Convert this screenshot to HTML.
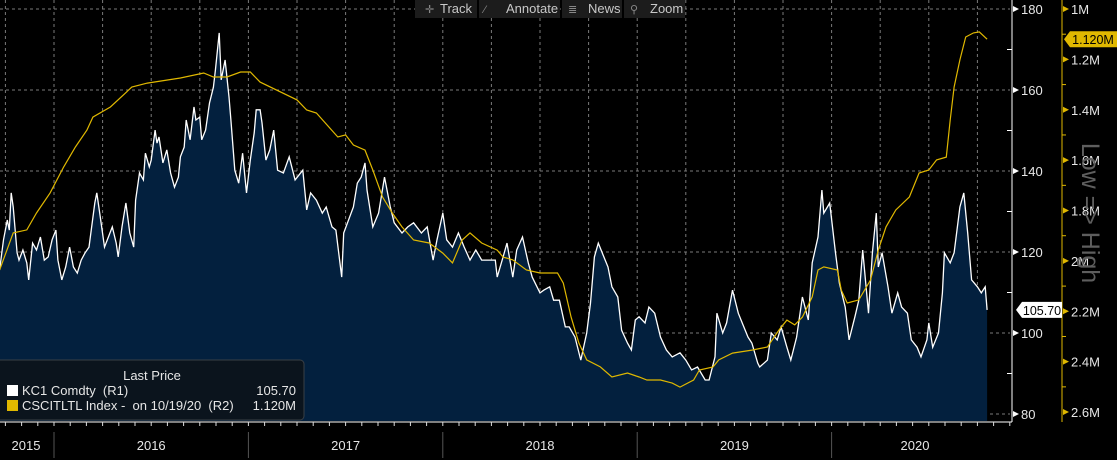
<!DOCTYPE html>
<html><head><meta charset="utf-8">
<style>
html,body{margin:0;padding:0;background:#000;width:1117px;height:460px;overflow:hidden;font-family:"Liberation Sans",sans-serif;}
svg text{font-family:"Liberation Sans",sans-serif;white-space:pre;}
</style></head>
<body>
<svg id="chart" width="1117" height="460" viewBox="0 0 1117 460" xmlns="http://www.w3.org/2000/svg">
<g id="grid"></g>
<g id="series"></g>
<g id="axes"></g>
<g>
  <rect x="415" y="0" width="62" height="18" fill="#1c1c1c"/>
  <text x="425" y="13" fill="#888" font-size="11">✛</text>
  <text x="440" y="13" fill="#c8c8c8" font-size="13">Track</text>
  <rect x="479" y="0" width="81" height="18" fill="#1c1c1c"/>
  <text x="484" y="13" fill="#888" font-size="11">⁄</text>
  <text x="506" y="13" fill="#c8c8c8" font-size="13">Annotate</text>
  <rect x="562" y="0" width="60" height="18" fill="#1c1c1c"/>
  <text x="568" y="13" fill="#888" font-size="11">≣</text>
  <text x="588" y="13" fill="#c8c8c8" font-size="13">News</text>
  <rect x="624" y="0" width="61" height="18" fill="#1c1c1c"/>
  <text x="630" y="13" fill="#888" font-size="11">⚲</text>
  <text x="650" y="13" fill="#c8c8c8" font-size="13">Zoom</text>
</g>
<g>
  <rect x="-4" y="360" width="308" height="60" rx="4" fill="#0b141d" stroke="#3a3f45"/>
  <text x="152" y="380" fill="#e6e6e6" font-size="13" text-anchor="middle">Last Price</text>
  <rect x="7" y="385" width="11" height="11" fill="#fff"/>
  <text x="22" y="395" fill="#e6e6e6" font-size="13" xml:space="preserve">KC1 Comdty  (R1)</text>
  <text x="296" y="395" fill="#e6e6e6" font-size="13" text-anchor="end">105.70</text>
  <rect x="7" y="400" width="11" height="11" fill="#e0b800"/>
  <text x="22" y="410" fill="#e6e6e6" font-size="13" xml:space="preserve">CSCITLTL Index -  on 10/19/20  (R2)</text>
  <text x="296" y="410" fill="#e6e6e6" font-size="13" text-anchor="end">1.120M</text>
</g>
<text transform="translate(1082,213) rotate(90)" fill="#5e5e5e" font-size="25" text-anchor="middle" xml:space="preserve">Low =&gt; High</text>
</svg>
<script>
const kcDates=[2015.72,2015.74,2015.76,2015.77,2015.78,2015.79,2015.81,2015.82,2015.84,2015.86,2015.87,2015.89,2015.91,2015.93,2015.95,2015.97,2015.99,2016.01,2016.02,2016.04,2016.06,2016.08,2016.10,2016.12,2016.14,2016.16,2016.18,2016.21,2016.22,2016.24,2016.26,2016.28,2016.30,2016.32,2016.33,2016.35,2016.37,2016.39,2016.41,2016.42,2016.44,2016.46,2016.47,2016.49,2016.50,2016.52,2016.53,2016.54,2016.56,2016.58,2016.60,2016.62,2016.64,2016.65,2016.67,2016.68,2016.70,2016.72,2016.73,2016.75,2016.76,2016.78,2016.80,2016.82,2016.83,2016.85,2016.86,2016.88,2016.90,2016.91,2016.93,2016.95,2016.97,2016.99,2017.01,2017.03,2017.04,2017.06,2017.07,2017.09,2017.11,2017.13,2017.15,2017.18,2017.21,2017.24,2017.28,2017.30,2017.32,2017.35,2017.38,2017.40,2017.43,2017.45,2017.48,2017.49,2017.51,2017.54,2017.56,2017.58,2017.60,2017.61,2017.64,2017.67,2017.70,2017.73,2017.75,2017.79,2017.82,2017.85,2017.89,2017.92,2017.95,2017.97,2018.00,2018.02,2018.05,2018.08,2018.11,2018.14,2018.17,2018.20,2018.24,2018.27,2018.28,2018.31,2018.33,2018.36,2018.38,2018.41,2018.44,2018.46,2018.50,2018.52,2018.55,2018.57,2018.60,2018.63,2018.65,2018.68,2018.71,2018.74,2018.76,2018.78,2018.80,2018.82,2018.85,2018.87,2018.90,2018.92,2018.95,2018.97,2018.99,2019.01,2019.04,2019.06,2019.09,2019.12,2019.15,2019.18,2019.22,2019.25,2019.28,2019.31,2019.35,2019.37,2019.40,2019.41,2019.44,2019.46,2019.49,2019.52,2019.54,2019.57,2019.59,2019.62,2019.63,2019.67,2019.69,2019.72,2019.74,2019.77,2019.79,2019.82,2019.85,2019.88,2019.90,2019.93,2019.95,2019.96,2019.99,2020.02,2020.04,2020.07,2020.09,2020.12,2020.14,2020.16,2020.19,2020.21,2020.23,2020.24,2020.26,2020.29,2020.31,2020.34,2020.36,2020.39,2020.41,2020.44,2020.46,2020.49,2020.50,2020.52,2020.55,2020.57,2020.58,2020.61,2020.63,2020.66,2020.68,2020.70,2020.72,2020.75,2020.77,2020.79,2020.80];
const kcValues=[115.6,123.0,127.9,125.4,134.6,131.1,119.8,118.0,120.5,117.3,113.1,122.2,120.5,123.7,118.0,118.8,123.0,125.4,118.0,113.1,116.3,121.2,116.3,114.8,118.0,119.8,121.2,132.1,134.6,127.9,121.2,123.7,126.2,122.2,118.8,126.2,132.1,124.7,121.2,132.8,139.5,137.8,144.4,141.0,142.7,150.1,146.9,148.4,142.0,145.2,139.5,136.0,138.5,143.5,145.9,152.6,147.7,155.8,152.6,153.3,147.7,150.1,156.8,160.7,164.9,174.1,162.5,167.4,158.3,152.6,140.2,137.0,144.4,134.6,142.7,149.4,155.1,155.1,151.9,142.7,145.2,150.1,140.2,139.5,143.5,137.8,140.2,130.4,134.6,132.8,129.6,131.1,126.2,125.4,113.8,124.7,127.2,131.1,137.0,138.5,142.0,135.3,126.2,129.6,138.5,131.1,127.2,124.7,126.2,127.2,124.7,126.2,118.0,123.0,129.6,123.0,121.2,124.7,121.2,118.0,120.5,118.0,118.0,118.0,113.8,118.8,122.2,113.8,120.5,123.7,117.3,113.8,109.9,110.6,111.4,108.1,108.1,101.5,101.5,99.0,93.3,100.0,107.4,118.8,122.2,119.8,116.3,111.4,108.9,100.7,97.5,95.8,103.2,104.0,102.5,106.4,104.9,99.0,95.8,94.1,95.1,93.3,90.9,91.6,88.4,88.4,94.1,104.9,100.0,102.5,110.6,104.9,102.5,99.0,97.5,92.6,91.6,93.3,100.0,98.3,101.5,96.5,93.3,99.0,108.9,103.2,117.3,123.7,135.3,129.6,132.1,119.8,112.3,106.4,98.3,104.0,108.1,120.5,104.9,119.8,129.6,116.3,119.8,111.4,104.9,109.9,106.4,104.9,98.3,96.5,94.1,98.3,102.5,96.5,100.0,109.9,119.8,117.3,119.8,131.1,134.6,124.7,113.1,111.4,109.9,111.4,105.7];
const csDates=[2015.72,2015.79,2015.86,2015.91,2015.98,2016.05,2016.11,2016.17,2016.20,2016.29,2016.40,2016.48,2016.65,2016.77,2016.82,2016.89,2016.96,2017.01,2017.06,2017.25,2017.30,2017.35,2017.46,2017.50,2017.54,2017.60,2017.64,2017.69,2017.74,2017.79,2017.85,2017.93,2018.00,2018.05,2018.10,2018.14,2018.20,2018.28,2018.31,2018.36,2018.43,2018.50,2018.59,2018.62,2018.66,2018.70,2018.74,2018.81,2018.87,2018.95,2019.01,2019.05,2019.12,2019.18,2019.22,2019.29,2019.32,2019.39,2019.42,2019.49,2019.59,2019.67,2019.73,2019.77,2019.81,2019.85,2019.90,2019.93,2019.96,2020.03,2020.05,2020.08,2020.14,2020.20,2020.24,2020.28,2020.33,2020.40,2020.45,2020.50,2020.54,2020.59,2020.61,2020.63,2020.66,2020.69,2020.73,2020.76,2020.80];
const csValues=[2.036,1.889,1.877,1.810,1.730,1.627,1.548,1.480,1.429,1.389,1.310,1.294,1.274,1.254,1.270,1.270,1.250,1.250,1.290,1.361,1.401,1.413,1.508,1.500,1.540,1.560,1.639,1.746,1.810,1.865,1.917,1.929,1.969,2.008,1.917,1.889,1.929,1.957,1.985,1.996,2.036,2.048,2.048,2.088,2.223,2.326,2.393,2.421,2.461,2.445,2.461,2.473,2.473,2.485,2.501,2.473,2.433,2.421,2.393,2.366,2.354,2.342,2.274,2.235,2.254,2.223,2.143,2.036,2.024,2.036,2.116,2.167,2.155,2.076,1.957,1.865,1.798,1.746,1.651,1.639,1.599,1.588,1.441,1.310,1.202,1.111,1.095,1.091,1.120];
const r1Ticks=[180,160,140,120,100,80];
const r1Minor=[170,150,130,110,90];
const r2Ticks=[1.0,1.2,1.4,1.6,1.8,2.0,2.2,2.4,2.6];
const r2Labels=["1M","1.2M","1.4M","1.6M","1.8M","2M","2.2M","2.4M","2.6M"];
const years=[2015,2016,2017,2018,2019,2020];

const NS="http://www.w3.org/2000/svg";
const xS=t=>54+(t-2016)*194.4;
const y1=v=>9+(180-v)*4.05;
const y2=v=>9+(v-1)*251.9;
const BASE=421;
function mk(tag,attrs,parent){const e=document.createElementNS(NS,tag);for(const k in attrs)e.setAttribute(k,attrs[k]);parent.appendChild(e);return e;}
const grid=document.getElementById('grid'),ser=document.getElementById('series'),ax=document.getElementById('axes');

r1Ticks.forEach(v=>{const l=mk('line',{x1:0,x2:1010,y1:y1(v),y2:y1(v),stroke:'#7a7a7a','stroke-dasharray':'3,3','stroke-width':1},grid);

});
for(let q=2015.75;q<=2020.76;q+=0.25){const x=xS(q);const l=mk('line',{x1:x,x2:x,y1:0,y2:BASE,stroke:'#7a7a7a','stroke-dasharray':'3,3','stroke-width':1},grid);

}

let d='M'+xS(kcDates[0])+','+BASE;
kcDates.forEach((t,i)=>{d+=' L'+xS(t).toFixed(1)+','+y1(kcValues[i]).toFixed(1);});
d+=' L'+xS(kcDates[kcDates.length-1])+','+BASE+' Z';
const area=mk('path',{d:d,fill:'#03203e'},ser);


const kl=mk('path',{d:'M'+kcDates.map((t,i)=>xS(t).toFixed(1)+','+y1(kcValues[i]).toFixed(1)).join(' L'),fill:'none',stroke:'#ffffff','stroke-width':1.3},ser);


const cl=mk('path',{d:'M'+csDates.map((t,i)=>xS(t).toFixed(1)+','+y2(csValues[i]).toFixed(1)).join(' L'),fill:'none',stroke:'#e0b800','stroke-width':1.2},ser);



mk('line',{x1:0,x2:1012,y1:BASE+1,y2:BASE+1,stroke:'#fff'},ax);
for(let m=2015.75;m<=2020.92;m+=1/12){const x=xS(m);mk('line',{x1:x,x2:x,y1:BASE+1,y2:BASE+5,stroke:'#ddd'},ax);}
years.forEach(y=>{
 if(y>2015){const l=mk('line',{x1:xS(y),x2:xS(y),y1:432,y2:458,stroke:'#555'},ax);
 
 }
 const x0=Math.max(xS(y),0),x1=Math.min(xS(y+1),1012);
 const tx=mk('text',{x:y==2015?26:(y==2020?915:(x0+x1)/2),y:450,fill:'#e6e6e6','font-size':13,'text-anchor':'middle'},ax);
 tx.textContent=y;
 
 
});

mk('line',{x1:1012,x2:1012,y1:0,y2:BASE+1,stroke:'#fff'},ax);
r1Ticks.forEach(v=>{const y=y1(v);
 mk('path',{d:`M1013,${y-3} L1019,${y} L1013,${y+3} Z`,fill:'#fff'},ax);
 const t=mk('text',{x:1021,y:y+5,fill:'#e6e6e6','font-size':13},ax);t.textContent=v;
 
 });
r1Minor.forEach(v=>{mk('line',{x1:1007,x2:1012,y1:y1(v),y2:y1(v),stroke:'#fff'},ax);});
mk('line',{x1:1062,x2:1062,y1:0,y2:BASE+1,stroke:'#e0b800'},ax);
r2Ticks.forEach((v,i)=>{const y=y2(v);
 mk('path',{d:`M1063,${y-3} L1069,${y} L1063,${y+3} Z`,fill:'#e0b800'},ax);
 const t=mk('text',{x:1071,y:y+5,fill:'#e6e6e6','font-size':13},ax);t.textContent=r2Labels[i];
 
 
 if(i<r2Ticks.length-1)mk('line',{x1:1062,x2:1066,y1:y+25.2,y2:y+25.2,stroke:'#e0b800'},ax);});

const lk=y1(kcValues[kcValues.length-1]);
const tg1=mk('path',{d:`M1016,${lk} L1022,${lk-8} L1062,${lk-8} L1062,${lk+8} L1022,${lk+8} Z`,fill:'#fff'},ax);


const tt1=mk('text',{x:1042,y:lk+5,fill:'#000','font-size':12.5,'text-anchor':'middle'},ax);tt1.textContent=kcValues[kcValues.length-1].toFixed(2);


const lc=y2(csValues[csValues.length-1]);
const tg2=mk('path',{d:`M1064,${lc} L1070,${lc-8} L1117,${lc-8} L1117,${lc+8} L1070,${lc+8} Z`,fill:'#e0b800'},ax);


const tt2=mk('text',{x:1093,y:lc+5,fill:'#000','font-size':12.5,'text-anchor':'middle'},ax);tt2.textContent=csValues[csValues.length-1].toFixed(3)+'M';


</script>
</body></html>
